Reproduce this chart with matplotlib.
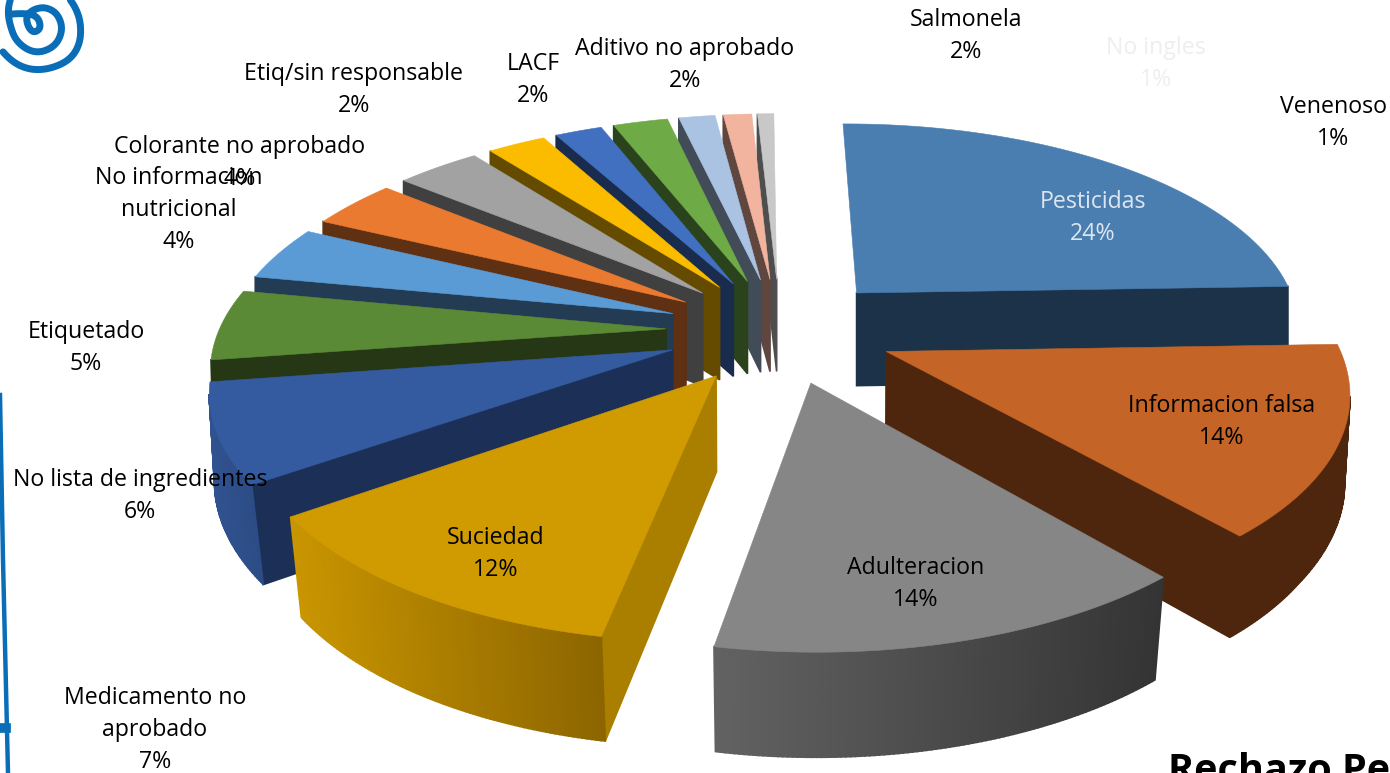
import numpy as np
import matplotlib
matplotlib.use("Agg")
import matplotlib.pyplot as plt
from matplotlib.patches import Polygon

plt.rcParams['font.family'] = ['Open Sans', 'DejaVu Sans']

# causes of rejection, percent as printed on the chart
names = ["Pesticidas", "Informacion falsa", "Adulteracion", "Suciedad",
         "Medicamento no\naprobado", "No lista de ingredientes", "Etiquetado",
         "No informacion\nnutricional", "Colorante no aprobado",
         "Etiq/sin responsable", "LACF", "Aditivo no aprobado", "Salmonela",
         "No ingles", "Venenoso"]
percents = [24, 14, 14, 12, 7, 6, 5, 4, 4, 2, 2, 2, 2, 1, 1]
# slice sizes as they look in the picture, the 3d view distorts them a bit
values = [24.6, 14.2, 14.3, 12.3, 7.4, 5.35, 4.15, 3.75, 3.6, 2.5, 2.02, 2.35, 1.56, 1.22, 0.7]

top_cols = ["#4A7EB0", "#C46426", "#868686", "#D09B00", "#345A9F", "#5B8A36", "#5B9BD5",
            "#EA7A30", "#A2A2A2", "#FBBC00", "#4270C0", "#6EAA46", "#ABC3E2", "#F2B49E", "#C8C8C8"]
side_cols = ["#1B3249", "#4E260E", "#3A3A3A", "#AA7F00", "#1C2F56", "#263716", "#243C53",
             "#5F3012", "#404040", "#654B00", "#1A2C4D", "#2B431C", "#424C59", "#5F4740", "#4E4E4E"]
# rim colour at the left and right end of each slice
rim_cols = [("#1B3249", "#1B3249"), ("#4E260E", "#4E260E"), ("#626262", "#343434"),
            ("#C99500", "#8C6500"), ("#30528F", "#2C4C85"), ("#263716", "#263716"),
            ("#243C53", "#243C53"), ("#5F3012", "#5F3012"), ("#404040", "#404040"),
            ("#654B00", "#654B00"), ("#1A2C4D", "#1A2C4D"), ("#2B431C", "#2B431C"),
            ("#424C59", "#424C59"), ("#5F4740", "#5F4740"), ("#4E4E4E", "#4E4E4E")]

label_cols = ["#DCE6F1"] + ["black"] * 12 + ["#EEEEEE", "black"]
label_xy = [(1093, 218), (1222, 422), (916, 584), (496, 554), (155, 730), (140, 496), (86, 348),
            (179, 210), (240, 163), (354, 90), (533, 80), (685, 65), (966, 36), (1156, 64), (1333, 123)]

# view of the pie
cx, cy = 780, 330
rx, ry = 447, 207
persp = 0.16
explode = 0.255
depth = 94
start = -0.5


def project(u, v):
    s = 1 / (1 - persp * v)
    return cx + rx * u * s, cy + ry * v * s, s


def outline(a0, a1, mid):
    # apex then outer arc, clockwise on screen
    ex, ey = explode * np.sin(mid), -explode * np.cos(mid)
    t = np.radians(np.linspace(a0, a1, max(int(a1 - a0) * 2, 6)))
    us = np.r_[ex, ex + np.sin(t)]
    vs = np.r_[ey, ey - np.cos(t)]
    return project(us, vs) + (vs,)


def blend(c0, c1, f):
    a = np.array(matplotlib.colors.to_rgb(c0))
    b = np.array(matplotlib.colors.to_rgb(c1))
    return a + (b - a) * f


def draw_slice(ax, i, a0, a1):
    xs, ys, ss, vs = outline(a0, a1, np.radians((a0 + a1) / 2))
    # the lower edge leans a little towards the middle in the front
    xb = xs - (xs - cx) * 0.022 * np.clip(vs * 1.5, 0, 1)
    yb = ys + depth * np.sqrt(ss)
    n = len(xs)
    x_low, x_high = xs[1:].min(), xs[1:].max()
    for k in range(n):
        j = (k + 1) % n
        if xs[j] >= xs[k] or (i == 0 and k == 0):
            continue  # this side looks away
        quad = [(xs[k], ys[k]), (xs[j], ys[j]), (xb[j], yb[j]), (xb[k], yb[k])]
        if k == 0 or j == 0:
            col = side_cols[i]
        else:
            f = ((xs[k] + xs[j]) / 2 - x_low) / max(x_high - x_low, 1)
            col = blend(rim_cols[i][0], rim_cols[i][1], f)
        ax.add_patch(Polygon(quad, closed=True, fc=col, ec=col, lw=1.2))
    ax.add_patch(Polygon(np.c_[xs, ys], closed=True, fc=top_cols[i], ec=top_cols[i], lw=0.4))


def smooth(x, y, rounds=3):
    # corner cutting so the hand drawn logo stays round
    p = np.c_[x, y].astype(float)
    for _ in range(rounds):
        q = np.empty((len(p) * 2 - 2, 2))
        q[0::2] = 0.75 * p[:-1] + 0.25 * p[1:]
        q[1::2] = 0.25 * p[:-1] + 0.75 * p[1:]
        p = q
    return p[:, 0], p[:, 1]


fig = plt.figure(figsize=(13.9, 7.73), dpi=100)
ax = fig.add_axes([0, 0, 1, 1])
ax.set_xlim(0, 1390)
ax.set_ylim(773, 0)
ax.axis("off")

cum = np.cumsum([0] + values)
angles = start + cum * 360 / cum[-1]
for i in list(range(14, 3, -1)) + [0, 1, 2]:
    draw_slice(ax, i, angles[i], angles[i + 1])
draw_slice(ax, 3, angles[3], angles[4])

for i, name in enumerate(names):
    ax.text(label_xy[i][0], label_xy[i][1], f"{name}\n{percents[i]}%", ha="center", va="center",
            fontsize=16.7, color=label_cols[i], linespacing=1.47)

# logo and side rule
blue = "#0A6DB8"
lx, ly = smooth([12, 8, 9, 16, 35, 55, 63, 58, 46, 34, 26, 28, 34, 41, 38, 27, -2],
                [-6, 8, 22, 42, 54, 47, 30, 14, 7, 9, 16, 27, 33, 28, 17, 13, 15])
ax.plot(lx, ly, color=blue, lw=5, solid_capstyle="round", solid_joinstyle="round")
lx, ly = smooth([66, 76, 81, 80, 70, 50, 30, 12, -4],
                [-6, 8, 24, 44, 60, 69, 70, 62, 44])
ax.plot(lx, ly, color=blue, lw=5, solid_capstyle="round", solid_joinstyle="round")
ax.plot([0, 3, 8], [395, 560, 773], color=blue, lw=3.2)
ax.plot([0, 6], [728, 728], color=blue, lw=7)

ax.text(1168, 782, "Rechazo Pe", fontsize=28.5, fontweight="bold", color="black", ha="left", va="baseline",
        clip_on=True)

fig.savefig("out.png", dpi=100)
